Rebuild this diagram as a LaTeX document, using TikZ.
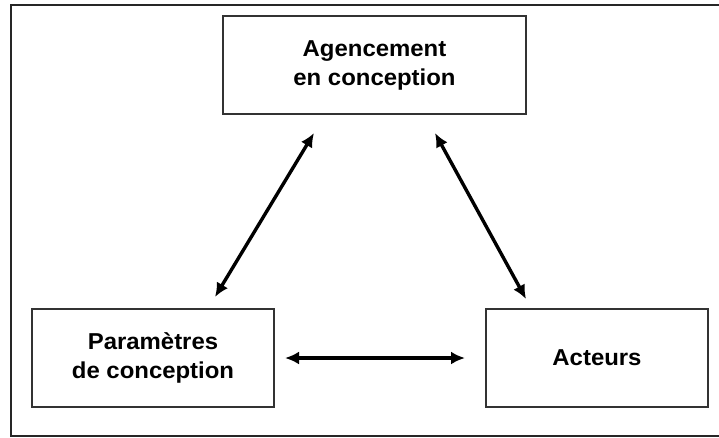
\documentclass[tikz,border=0pt]{standalone}
\usepackage{fontspec}
\setmainfont{Liberation Sans}[FakeStretch=1.04]
\usetikzlibrary{arrows.meta}
\begin{document}
\begin{tikzpicture}[x=1pt,y=-1pt,
  box/.style={draw=black!80,line width=1.3pt,minimum height=98pt,align=center,
    font=\bfseries\fontsize{23}{29}\selectfont,inner sep=0pt},
  link/.style={line width=3.4pt,{Latex[length=14pt,width=13pt]}-{Latex[length=14pt,width=13pt]}}]
\useasboundingbox (0,0) rectangle (719,437);
\draw[line width=2.2pt,black!85] (11,5) rectangle (730,436);
\node[box,minimum width=303pt] (top) at (374.5,65) {Agencement\\en conception};
\node[box,minimum width=242pt] (par) at (153,358) {Paramètres\\de conception};
\node[box,minimum width=222pt] (act) at (597,358) {Acteurs};
\coordinate (l1) at (215,297);
\coordinate (l2) at (314,133);
\coordinate (r1) at (435,133);
\coordinate (r2) at (526,299);
\coordinate (h1) at (285,358);
\coordinate (h2) at (465,358);
\draw[link] (l1) -- (l2);
\draw[link] (r1) -- (r2);
\draw[link] (h1) -- (h2);
\end{tikzpicture}
\end{document}
